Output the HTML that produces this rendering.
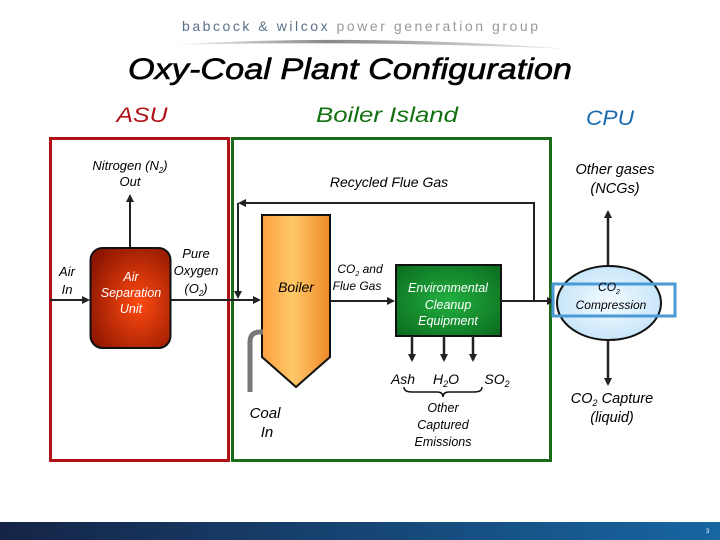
<!DOCTYPE html>
<html><head><meta charset="utf-8"><style>
html,body{margin:0;padding:0;background:#fff;}
svg{display:block;font-family:"Liberation Sans",sans-serif;}
</style></head><body>
<svg width="720" height="540" viewBox="0 0 720 540" xmlns="http://www.w3.org/2000/svg">
<defs>
<linearGradient id="bar" x1="0" x2="1"><stop offset="0" stop-color="#152446"/><stop offset="1" stop-color="#1766a2"/></linearGradient>
<linearGradient id="swoosh" x1="0" x2="1"><stop offset="0" stop-color="#fff"/><stop offset="0.4" stop-color="#888"/><stop offset="1" stop-color="#eee"/></linearGradient>
<radialGradient id="asu" cx="0.6" cy="0.55" r="0.7"><stop offset="0" stop-color="#ff4a10"/><stop offset="1" stop-color="#8a1500"/></radialGradient>
<linearGradient id="boil" x1="0" x2="1"><stop offset="0" stop-color="#ffa040"/><stop offset="0.45" stop-color="#ffc868"/><stop offset="1" stop-color="#f08a28"/></linearGradient>
<radialGradient id="env" cx="0.5" cy="0.5" r="0.7"><stop offset="0" stop-color="#22b040"/><stop offset="1" stop-color="#0a6a1e"/></radialGradient>
<radialGradient id="ell" cx="0.5" cy="0.5" r="0.6"><stop offset="0" stop-color="#f4fbff"/><stop offset="1" stop-color="#bfe2f8"/></radialGradient>
<marker id="ah" markerWidth="8" markerHeight="8" refX="6" refY="4" orient="auto" markerUnits="userSpaceOnUse"><path d="M0,0 L8,4 L0,8 z" fill="#222"/></marker>
</defs>
<!-- header -->
<text x="360" y="31" font-size="14" text-anchor="middle" fill="#5a7088" textLength="356" lengthAdjust="spacing">babcock &amp; wilcox <tspan fill="#999">power generation group</tspan></text>
<path d="M165,45 Q360,33 570,49 Q360,40 165,45z" fill="url(#swoosh)"/>
<text x="350" y="79" font-size="30" font-style="italic" text-anchor="middle" fill="#000" stroke="#000" stroke-width="0.6" textLength="444" lengthAdjust="spacingAndGlyphs">Oxy-Coal Plant Configuration</text>
<text x="142" y="122" font-size="21" font-style="italic" text-anchor="middle" fill="#b01218" textLength="51" lengthAdjust="spacingAndGlyphs">ASU</text>
<text x="387" y="122" font-size="21" font-style="italic" text-anchor="middle" fill="#127012" textLength="142" lengthAdjust="spacingAndGlyphs">Boiler Island</text>
<text x="610" y="125" font-size="21" font-style="italic" text-anchor="middle" fill="#1a6cb0" textLength="48" lengthAdjust="spacingAndGlyphs">CPU</text>
<!-- region boxes -->
<rect x="50.5" y="138.5" width="178" height="322" fill="none" stroke="#b01218" stroke-width="3"/>
<rect x="232.5" y="138.5" width="318" height="322" fill="none" stroke="#1a6a1a" stroke-width="3"/>
<!-- ASU -->
<line x1="50" y1="300" x2="88" y2="300" stroke="#222" stroke-width="2" marker-end="url(#ah)"/>
<line x1="130" y1="248" x2="130" y2="196" stroke="#222" stroke-width="2" marker-end="url(#ah)"/>
<rect x="90.5" y="248" width="80" height="100" rx="12" fill="url(#asu)" stroke="#111" stroke-width="2"/>
<g font-size="12.5" font-style="italic" fill="#fff" text-anchor="middle"><text x="131" y="281">Air</text><text x="131" y="297">Separation</text><text x="131" y="313">Unit</text></g>
<line x1="171" y1="300" x2="259" y2="300" stroke="#222" stroke-width="2" marker-end="url(#ah)"/>
<g font-size="13" font-style="italic" fill="#000" text-anchor="middle">
<text x="130" y="170">Nitrogen (N<tspan font-size="8" dy="3">2</tspan><tspan dy="-3">)</tspan></text><text x="130" y="186">Out</text>
<text x="67" y="276">Air</text><text x="67" y="294">In</text>
<text x="196" y="258">Pure</text><text x="196" y="275">Oxygen</text><text x="196" y="293">(O<tspan font-size="8" dy="3">2</tspan><tspan dy="-3">)</tspan></text>
</g>
<!-- recycle loop -->
<path d="M534,300 L534,203 L240,203" fill="none" stroke="#222" stroke-width="2" marker-end="url(#ah)"/>
<line x1="238" y1="203" x2="238" y2="297" stroke="#222" stroke-width="2" marker-end="url(#ah)"/>
<text x="389" y="187" font-size="14" font-style="italic" text-anchor="middle">Recycled Flue Gas</text>
<!-- boiler -->
<path d="M262,215 L330,215 L330,357 L296,387 L262,357 Z" fill="url(#boil)" stroke="#111" stroke-width="2"/>
<text x="296" y="292" font-size="14" font-style="italic" text-anchor="middle">Boiler</text>
<path d="M250,392 L250,342 Q250,332 260,332 L263,332" fill="none" stroke="#777" stroke-width="5"/>
<text x="265" y="418" font-size="15" font-style="italic" text-anchor="middle">Coal</text>
<text x="267" y="437" font-size="15" font-style="italic" text-anchor="middle">In</text>
<line x1="330" y1="301" x2="393" y2="301" stroke="#222" stroke-width="2" marker-end="url(#ah)"/>
<g font-size="12" font-style="italic" text-anchor="middle"><text x="360" y="273">CO<tspan font-size="7" dy="3">2</tspan><tspan dy="-3"> and</tspan></text><text x="357" y="290">Flue Gas</text></g>
<!-- env -->
<rect x="396" y="265" width="105" height="71" fill="url(#env)" stroke="#111" stroke-width="2"/>
<g font-size="12.5" font-style="italic" fill="#fff" text-anchor="middle"><text x="448" y="292">Environmental</text><text x="448" y="309">Cleanup</text><text x="448" y="325">Equipment</text></g>
<line x1="501" y1="301" x2="553" y2="301" stroke="#222" stroke-width="2" marker-end="url(#ah)"/>
<g stroke="#222" stroke-width="2.5"><line x1="412" y1="336" x2="412" y2="360" marker-end="url(#ah)"/><line x1="444" y1="336" x2="444" y2="360" marker-end="url(#ah)"/><line x1="473" y1="336" x2="473" y2="360" marker-end="url(#ah)"/></g>
<g font-size="14" font-style="italic" text-anchor="middle"><text x="403" y="384">Ash</text><text x="446" y="384">H<tspan font-size="9" dy="3">2</tspan><tspan dy="-3">O</tspan></text><text x="497" y="384">SO<tspan font-size="9" dy="3">2</tspan></text></g>
<path d="M404,387 Q404,392 412,392 L437,392 Q443,392 443,397 Q443,392 449,392 L474,392 Q482,392 482,387" fill="none" stroke="#111" stroke-width="1.5"/>
<g font-size="12.5" font-style="italic" text-anchor="middle"><text x="443" y="412">Other</text><text x="443" y="429">Captured</text><text x="443" y="446">Emissions</text></g>
<!-- CPU -->
<line x1="608" y1="266" x2="608" y2="212" stroke="#222" stroke-width="2.5" marker-end="url(#ah)"/>
<line x1="608" y1="340" x2="608" y2="384" stroke="#222" stroke-width="2.5" marker-end="url(#ah)"/>
<ellipse cx="609" cy="303" rx="52" ry="37" fill="url(#ell)" stroke="#111" stroke-width="2"/>
<rect x="553" y="284" width="122" height="32" fill="none" stroke="#4a9ad6" stroke-width="3"/>
<g font-size="12" font-style="italic" text-anchor="middle"><text x="609" y="291">CO<tspan font-size="7" dy="3">2</tspan></text><text x="611" y="309">Compression</text></g>
<g font-size="14.5" font-style="italic" text-anchor="middle"><text x="615" y="174">Other gases</text><text x="615" y="193">(NCGs)</text>
<text x="612" y="403">CO<tspan font-size="9" dy="3">2</tspan><tspan dy="-3"> Capture</tspan></text><text x="612" y="422">(liquid)</text></g>
<!-- footer -->
<rect x="0" y="522" width="720" height="18" fill="url(#bar)"/>
<text x="706" y="533" font-size="6" fill="#fff">3</text>
</svg>
</body></html>
